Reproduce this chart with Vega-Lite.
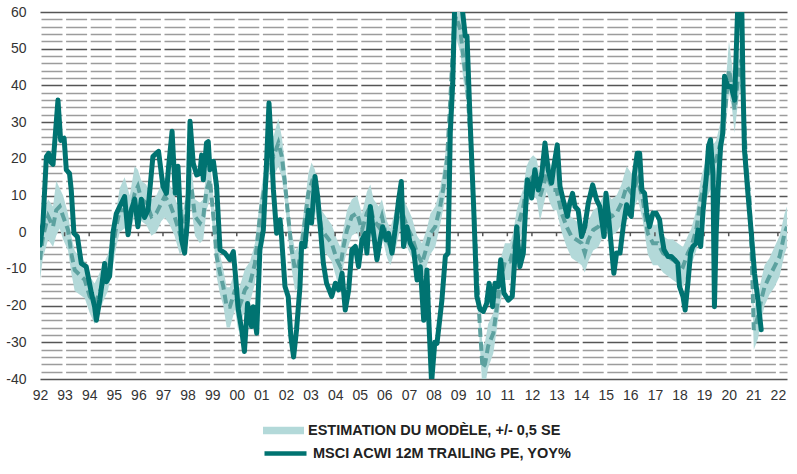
{
  "$schema": "https://vega.github.io/schema/vega-lite/v6.json",
  "width": 747,
  "height": 367,
  "autosize": "none",
  "padding": {"left": 40, "top": 12, "right": 10, "bottom": 95},
  "background": "white",
  "config": {"view": {"stroke": null}, "font": "Liberation Sans"},
  "datasets": {
    "years": [{"t":1993},{"t":1994},{"t":1995},{"t":1996},{"t":1997},{"t":1998},{"t":1999},{"t":2000},{"t":2001},{"t":2002},{"t":2003},{"t":2004},{"t":2005},{"t":2006},{"t":2007},{"t":2008},{"t":2009},{"t":2010},{"t":2011},{"t":2012},{"t":2013},{"t":2014},{"t":2015},{"t":2016},{"t":2017},{"t":2018},{"t":2019},{"t":2020},{"t":2021},{"t":2022}],
    "model": [
      {"t":1992.0,"m":-7.5,"lo":-13,"hi":-2},{"t":1992.12,"m":-1.2,"lo":-7,"hi":5},{"t":1992.33,"m":4.3,"lo":-2,"hi":9},{"t":1992.53,"m":1.5,"lo":-4,"hi":7},{"t":1992.66,"m":6,"lo":-1,"hi":14},{"t":1992.8,"m":7,"lo":1,"hi":12},{"t":1992.94,"m":4.3,"lo":-2,"hi":10},
      {"t":1993.14,"m":0.6,"lo":-5,"hi":5},{"t":1993.27,"m":-5.7,"lo":-11,"hi":-1},{"t":1993.41,"m":-10.3,"lo":-16,"hi":-5},{"t":1993.61,"m":-11.6,"lo":-17,"hi":-7},{"t":1993.82,"m":-13,"lo":-18,"hi":-8},
      {"t":1994.02,"m":-17.5,"lo":-22,"hi":-12},{"t":1994.22,"m":-19.4,"lo":-25,"hi":-14},{"t":1994.36,"m":-17.5,"lo":-23,"hi":-12},{"t":1994.56,"m":-13.9,"lo":-19,"hi":-9},{"t":1994.76,"m":-11.2,"lo":-16,"hi":-6},{"t":1994.97,"m":-3.9,"lo":-9,"hi":1},
      {"t":1995.1,"m":1.5,"lo":-4,"hi":6},{"t":1995.24,"m":6,"lo":0,"hi":12},{"t":1995.44,"m":6,"lo":1,"hi":15},{"t":1995.65,"m":4.3,"lo":-1,"hi":10},{"t":1995.85,"m":10.6,"lo":5,"hi":18},{"t":1995.98,"m":12.5,"lo":7,"hi":17},
      {"t":1996.12,"m":9,"lo":3,"hi":14},{"t":1996.32,"m":7.9,"lo":2,"hi":13},{"t":1996.53,"m":4.3,"lo":-1,"hi":9},{"t":1996.73,"m":5.2,"lo":0,"hi":10},{"t":1996.93,"m":7.9,"lo":3,"hi":13},
      {"t":1997.07,"m":9.7,"lo":4,"hi":15},{"t":1997.27,"m":7.9,"lo":2,"hi":13},{"t":1997.47,"m":4.3,"lo":-1,"hi":10},{"t":1997.68,"m":-0.3,"lo":-6,"hi":5},{"t":1997.82,"m":0.5,"lo":-5,"hi":6},{"t":1997.95,"m":6,"lo":0,"hi":11},
      {"t":1998.05,"m":12.5,"lo":7,"hi":18},{"t":1998.17,"m":11.5,"lo":6,"hi":17},{"t":1998.3,"m":4.3,"lo":-1,"hi":9},{"t":1998.5,"m":2.5,"lo":-3,"hi":8},{"t":1998.64,"m":4.3,"lo":-2,"hi":9},{"t":1998.77,"m":11.5,"lo":6,"hi":17},{"t":1998.91,"m":14.3,"lo":9,"hi":20},
      {"t":1999.05,"m":4.3,"lo":-1,"hi":9},{"t":1999.18,"m":-6.6,"lo":-12,"hi":-1},{"t":1999.32,"m":-11.2,"lo":-17,"hi":-6},{"t":1999.45,"m":-14.8,"lo":-20,"hi":-10},{"t":1999.59,"m":-20.3,"lo":-26,"hi":-15},{"t":1999.72,"m":-20.3,"lo":-26,"hi":-15},{"t":1999.93,"m":-15.7,"lo":-21,"hi":-10},
      {"t":2000.06,"m":-21.2,"lo":-27,"hi":-16},{"t":2000.2,"m":-18.5,"lo":-24,"hi":-13},{"t":2000.33,"m":-15.7,"lo":-21,"hi":-10},{"t":2000.54,"m":-13.9,"lo":-19,"hi":-8},{"t":2000.74,"m":-8.5,"lo":-14,"hi":-3},{"t":2000.94,"m":4.3,"lo":-1,"hi":9},
      {"t":2001.15,"m":13.4,"lo":8,"hi":19},{"t":2001.35,"m":23.4,"lo":17,"hi":29},{"t":2001.49,"m":20.6,"lo":15,"hi":26},{"t":2001.69,"m":24.3,"lo":18,"hi":31},{"t":2001.83,"m":20.6,"lo":15,"hi":26},{"t":2001.96,"m":13.4,"lo":8,"hi":19},
      {"t":2002.09,"m":4.3,"lo":-1,"hi":9},{"t":2002.23,"m":-4.8,"lo":-10,"hi":0},{"t":2002.37,"m":-10.3,"lo":-16,"hi":-5},{"t":2002.5,"m":-9.4,"lo":-15,"hi":-4},{"t":2002.64,"m":-3.9,"lo":-9,"hi":1},{"t":2002.77,"m":3.4,"lo":-2,"hi":8},{"t":2002.91,"m":10.6,"lo":5,"hi":16},
      {"t":2003.04,"m":13.4,"lo":8,"hi":19},{"t":2003.18,"m":11.5,"lo":6,"hi":17},{"t":2003.32,"m":6,"lo":0,"hi":11},{"t":2003.45,"m":0.6,"lo":-5,"hi":6},{"t":2003.65,"m":-1.2,"lo":-6,"hi":4},{"t":2003.86,"m":-3,"lo":-8,"hi":2},
      {"t":2004.07,"m":-7.5,"lo":-13,"hi":-2},{"t":2004.21,"m":-9.4,"lo":-15,"hi":-4},{"t":2004.34,"m":-3.9,"lo":-9,"hi":1},{"t":2004.48,"m":0.6,"lo":-5,"hi":6},{"t":2004.68,"m":4.3,"lo":-1,"hi":9},{"t":2004.89,"m":5.2,"lo":0,"hi":10},
      {"t":2005.09,"m":0.6,"lo":-5,"hi":5},{"t":2005.29,"m":5.2,"lo":-1,"hi":11},{"t":2005.43,"m":7,"lo":1,"hi":13},{"t":2005.56,"m":3.4,"lo":-3,"hi":9},{"t":2005.77,"m":1.5,"lo":-4,"hi":7},{"t":2005.9,"m":4.3,"lo":-1,"hi":9},
      {"t":2006.11,"m":-2.1,"lo":-7,"hi":3},{"t":2006.24,"m":-3.9,"lo":-9,"hi":1},{"t":2006.44,"m":0.6,"lo":-5,"hi":6},{"t":2006.65,"m":7,"lo":1,"hi":12},{"t":2006.78,"m":4.3,"lo":-1,"hi":9},{"t":2006.92,"m":1.5,"lo":-4,"hi":7},
      {"t":2007.12,"m":-1.2,"lo":-7,"hi":4},{"t":2007.33,"m":-5.7,"lo":-11,"hi":-1},{"t":2007.53,"m":-8.5,"lo":-13,"hi":-3},{"t":2007.73,"m":-3.9,"lo":-9,"hi":1},{"t":2007.87,"m":-0.3,"lo":-6,"hi":5},
      {"t":2008.07,"m":1.5,"lo":-4,"hi":7},{"t":2008.27,"m":7,"lo":2,"hi":12},{"t":2008.41,"m":12.5,"lo":7,"hi":18},{"t":2008.55,"m":19.7,"lo":14,"hi":25},{"t":2008.68,"m":36,"lo":30,"hi":42},{"t":2008.82,"m":54.3,"lo":48,"hi":61},{"t":2008.91,"m":58.8,"lo":53,"hi":65},
      {"t":2009.09,"m":55.2,"lo":49,"hi":61},{"t":2009.22,"m":47,"lo":41,"hi":53},{"t":2009.36,"m":40.6,"lo":35,"hi":46},{"t":2009.49,"m":27,"lo":21,"hi":33},{"t":2009.63,"m":7,"lo":1,"hi":13},{"t":2009.76,"m":-11.2,"lo":-17,"hi":-5},{"t":2009.9,"m":-27.5,"lo":-33,"hi":-22},{"t":2009.99,"m":-37,"lo":-43,"hi":-31},
      {"t":2010.09,"m":-36,"lo":-42,"hi":-30},{"t":2010.22,"m":-31,"lo":-37,"hi":-25},{"t":2010.43,"m":-27.5,"lo":-33,"hi":-22},{"t":2010.56,"m":-21.2,"lo":-27,"hi":-16},{"t":2010.7,"m":-14,"lo":-20,"hi":-8},{"t":2010.9,"m":-8,"lo":-13,"hi":-3},
      {"t":2011.11,"m":-8,"lo":-13,"hi":-3},{"t":2011.24,"m":-4.8,"lo":-10,"hi":0},{"t":2011.38,"m":0.3,"lo":-5,"hi":6},{"t":2011.51,"m":3.5,"lo":-2,"hi":9},{"t":2011.65,"m":7,"lo":1,"hi":12},{"t":2011.78,"m":12.5,"lo":7,"hi":18},{"t":2011.92,"m":14.3,"lo":9,"hi":20},
      {"t":2012.05,"m":15.2,"lo":10,"hi":21},{"t":2012.19,"m":14.3,"lo":9,"hi":20},{"t":2012.33,"m":9.7,"lo":3,"hi":15},{"t":2012.46,"m":12.5,"lo":7,"hi":18},{"t":2012.6,"m":16,"lo":11,"hi":22},{"t":2012.73,"m":13.4,"lo":8,"hi":19},{"t":2012.87,"m":11.5,"lo":6,"hi":17},
      {"t":2013.0,"m":11.5,"lo":6,"hi":17},{"t":2013.21,"m":5.2,"lo":0,"hi":11},{"t":2013.41,"m":1.5,"lo":-4,"hi":7},{"t":2013.61,"m":-1.2,"lo":-7,"hi":4},{"t":2013.82,"m":-2.1,"lo":-8,"hi":3},
      {"t":2014.02,"m":-3,"lo":-9,"hi":2},{"t":2014.15,"m":-5.7,"lo":-11,"hi":-1},{"t":2014.29,"m":-2.1,"lo":-8,"hi":3},{"t":2014.49,"m":0.6,"lo":-5,"hi":6},{"t":2014.7,"m":1.5,"lo":-4,"hi":7},{"t":2014.9,"m":4.3,"lo":-1,"hi":10},
      {"t":2015.03,"m":6,"lo":0,"hi":11},{"t":2015.24,"m":4.3,"lo":-1,"hi":9},{"t":2015.44,"m":5.2,"lo":0,"hi":10},{"t":2015.64,"m":7.9,"lo":2,"hi":13},{"t":2015.85,"m":12.5,"lo":7,"hi":18},
      {"t":2016.05,"m":10.6,"lo":5,"hi":16},{"t":2016.31,"m":14.3,"lo":9,"hi":20},{"t":2016.51,"m":8.8,"lo":3,"hi":14},{"t":2016.71,"m":-0.3,"lo":-6,"hi":5},{"t":2016.92,"m":-3,"lo":-9,"hi":2},
      {"t":2017.12,"m":-3,"lo":-9,"hi":2},{"t":2017.33,"m":-5.7,"lo":-11,"hi":-1},{"t":2017.53,"m":-6.6,"lo":-12,"hi":-2},{"t":2017.73,"m":-7.5,"lo":-13,"hi":-2},{"t":2017.93,"m":-8.5,"lo":-14,"hi":-3},
      {"t":2018.14,"m":-9.4,"lo":-15,"hi":-4},{"t":2018.34,"m":-5.7,"lo":-11,"hi":-1},{"t":2018.48,"m":-3.9,"lo":-9,"hi":1},{"t":2018.68,"m":0.6,"lo":-5,"hi":6},{"t":2018.88,"m":9.7,"lo":4,"hi":15},
      {"t":2019.09,"m":14.3,"lo":9,"hi":20},{"t":2019.29,"m":17.9,"lo":12,"hi":23},{"t":2019.49,"m":19.7,"lo":14,"hi":25},{"t":2019.7,"m":25.2,"lo":19,"hi":31},{"t":2019.86,"m":33.4,"lo":27,"hi":39},
      {"t":2020.01,"m":44.3,"lo":38,"hi":52},{"t":2020.13,"m":39.7,"lo":34,"hi":46},{"t":2020.24,"m":33.4,"lo":27,"hi":39},{"t":2020.37,"m":41.5,"lo":35,"hi":47},{"t":2020.51,"m":47,"lo":41,"hi":53},{"t":2020.62,"m":31.5,"lo":25,"hi":37},{"t":2020.71,"m":17.9,"lo":12,"hi":24},{"t":2020.85,"m":8.8,"lo":3,"hi":15},{"t":2020.93,"m":-5,"lo":-11,"hi":1},
      {"t":2021.02,"m":-26.6,"lo":-32,"hi":-21},{"t":2021.19,"m":-23,"lo":-29,"hi":-17},{"t":2021.32,"m":-18.5,"lo":-24,"hi":-13},{"t":2021.46,"m":-14.8,"lo":-20,"hi":-9},{"t":2021.66,"m":-12,"lo":-17,"hi":-7},{"t":2021.86,"m":-9.4,"lo":-15,"hi":-4},
      {"t":2022.07,"m":-6.6,"lo":-12,"hi":-1},{"t":2022.27,"m":-0.3,"lo":-6,"hi":5},{"t":2022.37,"m":1.5,"lo":-4,"hi":7}
    ],
    "actual": [
      {"t":1992.0,"v":-3.5},{"t":1992.12,"v":2.5},{"t":1992.26,"v":20.6},{"t":1992.35,"v":21.5},{"t":1992.45,"v":19},{"t":1992.53,"v":18.5},{"t":1992.73,"v":36},{"t":1992.84,"v":25},{"t":1992.98,"v":25.6},
      {"t":1993.07,"v":17},{"t":1993.2,"v":16},{"t":1993.27,"v":11.5},{"t":1993.38,"v":-0.3},{"t":1993.52,"v":-1.2},{"t":1993.68,"v":-8.5},{"t":1993.88,"v":-9.4},
      {"t":1994.09,"v":-16.6},{"t":1994.22,"v":-20.3},{"t":1994.29,"v":-24},{"t":1994.43,"v":-18.5},{"t":1994.56,"v":-12},{"t":1994.63,"v":-8.5},{"t":1994.7,"v":-13.5},{"t":1994.83,"v":-12},{"t":1994.97,"v":0},
      {"t":1995.1,"v":5},{"t":1995.24,"v":7},{"t":1995.44,"v":9.7},{"t":1995.58,"v":-0.7},{"t":1995.71,"v":6},{"t":1995.85,"v":9},{"t":1995.98,"v":1.5},
      {"t":1996.12,"v":9},{"t":1996.25,"v":4},{"t":1996.39,"v":6},{"t":1996.59,"v":20.6},{"t":1996.73,"v":21.5},{"t":1996.82,"v":22},
      {"t":1997.0,"v":12.5},{"t":1997.14,"v":10.6},{"t":1997.23,"v":18},{"t":1997.37,"v":27.5},{"t":1997.5,"v":10.6},{"t":1997.61,"v":18},{"t":1997.75,"v":-2},{"t":1997.88,"v":-5.7},{"t":1997.99,"v":3},
      {"t":1998.03,"v":11.5},{"t":1998.1,"v":30.2},{"t":1998.23,"v":18.8},{"t":1998.37,"v":15.6},{"t":1998.5,"v":16},{"t":1998.57,"v":21},{"t":1998.64,"v":14.3},{"t":1998.77,"v":24.3},{"t":1998.84,"v":24.7},{"t":1998.91,"v":17},
      {"t":1999.05,"v":19.3},{"t":1999.18,"v":12.5},{"t":1999.32,"v":-4.8},{"t":1999.52,"v":-5.7},{"t":1999.72,"v":-7.5},{"t":1999.86,"v":-5.3},{"t":1999.95,"v":-12},
      {"t":2000.06,"v":-21},{"t":2000.2,"v":-26.6},{"t":2000.31,"v":-32.5},{"t":2000.44,"v":-19.4},{"t":2000.6,"v":-25.7},{"t":2000.67,"v":-20.3},{"t":2000.81,"v":-27.5},{"t":2000.94,"v":-4.8},
      {"t":2001.08,"v":0.6},{"t":2001.21,"v":18.8},{"t":2001.31,"v":35.2},{"t":2001.39,"v":25.2},{"t":2001.49,"v":11.5},{"t":2001.62,"v":-0.3},{"t":2001.76,"v":3.4},{"t":2001.82,"v":-1.2},{"t":2001.96,"v":-14.8},
      {"t":2002.09,"v":-17.5},{"t":2002.2,"v":-28.5},{"t":2002.31,"v":-34},{"t":2002.43,"v":-26.6},{"t":2002.57,"v":-14.8},{"t":2002.64,"v":-3},{"t":2002.77,"v":-3.9},{"t":2002.91,"v":6},
      {"t":2003.04,"v":2.5},{"t":2003.18,"v":15.2},{"t":2003.29,"v":9.7},{"t":2003.38,"v":2.5},{"t":2003.52,"v":-8.5},{"t":2003.65,"v":-13.9},{"t":2003.86,"v":-17.5},
      {"t":2004.01,"v":-13.9},{"t":2004.14,"v":-15.7},{"t":2004.28,"v":-11.2},{"t":2004.41,"v":-21.2},{"t":2004.55,"v":-15.7},{"t":2004.68,"v":-4.8},{"t":2004.82,"v":-3.9},{"t":2004.95,"v":-9.4},
      {"t":2005.09,"v":-2.1},{"t":2005.23,"v":-0.3},{"t":2005.29,"v":-5.7},{"t":2005.43,"v":7},{"t":2005.56,"v":-0.3},{"t":2005.7,"v":-7.5},{"t":2005.83,"v":-2.1},{"t":2005.93,"v":1.5},
      {"t":2006.07,"v":-2.1},{"t":2006.17,"v":-0.3},{"t":2006.31,"v":-5.7},{"t":2006.44,"v":0.6},{"t":2006.58,"v":8.8},{"t":2006.69,"v":13.8},{"t":2006.78,"v":-3.9},{"t":2006.92,"v":1.5},
      {"t":2007.05,"v":-3},{"t":2007.19,"v":-4.8},{"t":2007.33,"v":-13},{"t":2007.46,"v":-9.4},{"t":2007.6,"v":-24},{"t":2007.73,"v":-10.3},{"t":2007.8,"v":-23},{"t":2007.92,"v":-41},
      {"t":2008.05,"v":-30},{"t":2008.14,"v":-30.3},{"t":2008.34,"v":-18.5},{"t":2008.48,"v":-6.6},{"t":2008.59,"v":-5.7},{"t":2008.68,"v":27},{"t":2008.78,"v":40.6},{"t":2008.86,"v":62},
      {"t":2009.0,"v":78},{"t":2009.15,"v":62},{"t":2009.29,"v":53.4},{"t":2009.36,"v":53.4},{"t":2009.49,"v":29.7},{"t":2009.63,"v":7},{"t":2009.76,"v":-17.5},{"t":2009.89,"v":-21},
      {"t":2010.02,"v":-21.6},{"t":2010.16,"v":-19.4},{"t":2010.26,"v":-13.9},{"t":2010.4,"v":-20.3},{"t":2010.5,"v":-13.9},{"t":2010.63,"v":-14.8},{"t":2010.73,"v":-7.5},{"t":2010.86,"v":-16.6},
      {"t":2011.04,"v":-18.5},{"t":2011.2,"v":-17.5},{"t":2011.31,"v":-6.6},{"t":2011.38,"v":1.5},{"t":2011.51,"v":-9.4},{"t":2011.65,"v":-5.7},{"t":2011.71,"v":2.5},{"t":2011.81,"v":14.3},{"t":2011.92,"v":12.5},{"t":2011.99,"v":9.3},
      {"t":2012.12,"v":17},{"t":2012.26,"v":11.5},{"t":2012.39,"v":15.2},{"t":2012.53,"v":24.3},{"t":2012.66,"v":17},{"t":2012.8,"v":13.4},{"t":2012.89,"v":18},
      {"t":2013.03,"v":23.8},{"t":2013.14,"v":12.5},{"t":2013.27,"v":8.8},{"t":2013.44,"v":4.3},{"t":2013.54,"v":7.9},{"t":2013.65,"v":10.6},{"t":2013.75,"v":7},{"t":2013.88,"v":6},
      {"t":2014.02,"v":-1.2},{"t":2014.15,"v":1.5},{"t":2014.29,"v":7.9},{"t":2014.47,"v":12.9},{"t":2014.63,"v":8.8},{"t":2014.76,"v":7},{"t":2014.93,"v":-1.2},
      {"t":2015.01,"v":10.6},{"t":2015.1,"v":5.2},{"t":2015.24,"v":-4.8},{"t":2015.33,"v":-11.2},{"t":2015.44,"v":-5.7},{"t":2015.58,"v":-5.7},{"t":2015.71,"v":1.5},{"t":2015.85,"v":7.5},{"t":2015.95,"v":5.2},
      {"t":2016.04,"v":4.3},{"t":2016.17,"v":16},{"t":2016.28,"v":21.5},{"t":2016.38,"v":21.5},{"t":2016.47,"v":11.5},{"t":2016.58,"v":10.6},{"t":2016.67,"v":5.2},{"t":2016.78,"v":1.5},{"t":2016.92,"v":5.2},
      {"t":2017.05,"v":5.2},{"t":2017.19,"v":3.4},{"t":2017.26,"v":-0.3},{"t":2017.37,"v":-4.8},{"t":2017.53,"v":-6.6},{"t":2017.66,"v":-6.6},{"t":2017.8,"v":-7.5},{"t":2017.93,"v":-8.5},
      {"t":2018.0,"v":-14.8},{"t":2018.14,"v":-17.5},{"t":2018.23,"v":-21.2},{"t":2018.34,"v":-13.9},{"t":2018.45,"v":-5.7},{"t":2018.54,"v":-3.9},{"t":2018.68,"v":-3},{"t":2018.75,"v":0.6},{"t":2018.86,"v":-3.9},{"t":2018.95,"v":5.2},
      {"t":2019.09,"v":15.2},{"t":2019.18,"v":23.4},{"t":2019.26,"v":25.2},{"t":2019.36,"v":16},{"t":2019.42,"v":-20.3},{"t":2019.49,"v":-0.3},{"t":2019.56,"v":10.6},{"t":2019.67,"v":23.4},{"t":2019.76,"v":27},{"t":2019.83,"v":42.5},{"t":2019.97,"v":39.7},
      {"t":2020.1,"v":39.7},{"t":2020.24,"v":36},{"t":2020.37,"v":62},{"t":2020.45,"v":72},{"t":2020.53,"v":62},{"t":2020.58,"v":40.6},{"t":2020.64,"v":22.5},{"t":2020.78,"v":10.6},{"t":2020.92,"v":-0.3},
      {"t":2021.05,"v":-11.2},{"t":2021.19,"v":-18.5},{"t":2021.32,"v":-26.6}
    ]
  },
  "layer": [
    {
      "data": {"name": "model"},
      "mark": {"type": "area", "clip": true, "opacity": 1},
      "encoding": {
        "x": {
          "field": "t", "type": "quantitative",
          "scale": {"domain": [1992, 2022.37], "nice": false, "zero": false},
          "axis": {
            "values": [1992,1993,1994,1995,1996,1997,1998,1999,2000,2001,2002,2003,2004,2005,2006,2007,2008,2009,2010,2011,2012,2013,2014,2015,2016,2017,2018,2019,2020,2021,2022],
            "labelExpr": "slice(toString(datum.value), 2)",
            "ticks": false, "domain": false, "grid": false, "title": null,
            "labelFontSize": 14, "labelColor": "#333333", "labelPadding": 9,
            "labelFlush": false, "labelOverlap": false
          }
        },
        "y": {
          "field": "lo", "type": "quantitative",
          "scale": {"domain": [-40, 60], "nice": false, "zero": false},
          "axis": {
            "values": [-40,-38,-36,-34,-32,-30,-28,-26,-24,-22,-20,-18,-16,-14,-12,-10,-8,-6,-4,-2,0,2,4,6,8,10,12,14,16,18,20,22,24,26,28,30,32,34,36,38,40,42,44,46,48,50,52,54,56,58,60],
            "labelExpr": "datum.value % 10 === 0 ? toString(datum.value) : ''",
            "ticks": false, "domain": false, "grid": true, "title": null,
            "gridColor": {"condition": {"test": "datum.value % 10 === 0", "value": "#555555"}, "value": "#9c9c9c"},
            "gridDash": {"condition": {"test": "datum.value === 0 || datum.value === 60 || datum.value === -40", "value": []}, "value": [21, 3.6]},
            "gridDashOffset": -1,
            "gridWidth": 1.4,
            "labelFontSize": 14, "labelColor": "#333333", "labelPadding": 14,
            "labelOverlap": false
          }
        },
        "y2": {"field": "hi"},
        "fill": {
          "datum": "ESTIMATION DU MODÈLE, +/- 0,5 SE",
          "scale": {"range": ["#b3d9d9"]},
          "legend": {
            "orient": "none", "legendX": 223, "legendY": 398, "title": null,
            "symbolType": "M-1,-0.18H1V0.18H-1Z", "symbolSize": 1681,
            "symbolStrokeWidth": 0, "symbolOpacity": 1, "labelLimit": 500,
            "labelFontSize": 14.5, "labelFontWeight": "bold", "labelColor": "#222222",
            "labelOffset": 4, "padding": 0
          }
        }
      }
    },
    {
      "data": {"name": "years"},
      "mark": {"type": "rule", "color": "#555555", "strokeWidth": 1.5},
      "encoding": {
        "x": {"field": "t", "type": "quantitative", "axis": null},
        "y": {"datum": 0, "type": "quantitative", "axis": null},
        "y2": {"datum": -1.1}
      }
    },
    {
      "data": {"name": "model"},
      "mark": {"type": "line", "clip": true, "color": "#5ca19f", "strokeWidth": 4, "strokeDash": [9, 5]},
      "encoding": {
        "x": {"field": "t", "type": "quantitative", "axis": null},
        "y": {"field": "m", "type": "quantitative", "axis": null}
      }
    },
    {
      "data": {"name": "actual"},
      "mark": {"type": "line", "clip": true, "strokeWidth": 5, "strokeJoin": "round", "strokeCap": "round"},
      "encoding": {
        "x": {"field": "t", "type": "quantitative", "axis": null},
        "y": {"field": "v", "type": "quantitative", "axis": null},
        "stroke": {
          "datum": "MSCI ACWI 12M TRAILING PE, YOY%",
          "scale": {"range": ["#007371"]},
          "legend": {
            "orient": "none", "legendX": 222, "legendY": 418, "title": null,
            "symbolType": "stroke", "symbolSize": 1764, "symbolStrokeWidth": 4.7, "labelLimit": 500,
            "labelFontSize": 14.5, "labelFontWeight": "bold", "labelColor": "#222222",
            "labelOffset": 4, "padding": 0
          }
        }
      }
    }
  ],
  "resolve": {"axis": {"x": "independent", "y": "independent"}}
}
